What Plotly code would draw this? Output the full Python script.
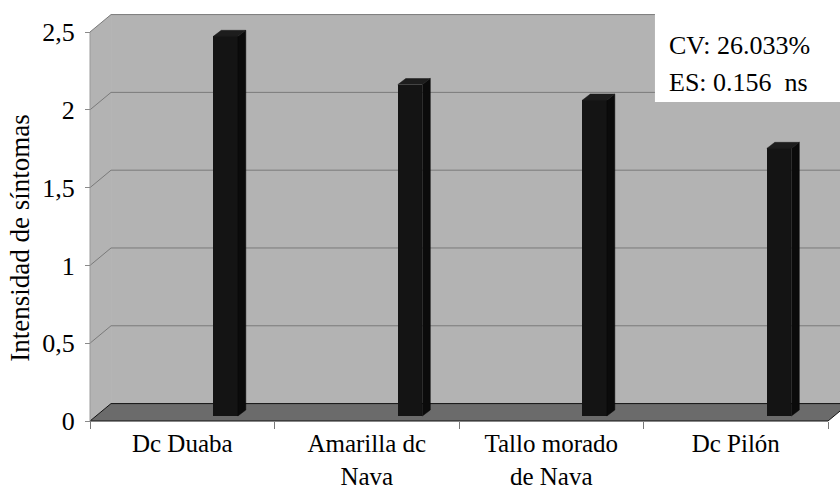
import plotly.graph_objects as go

# Disease symptom intensity per cultivar
categories = ["Dc Duaba", "Amarilla dc<br>Nava", "Tallo morado<br>de Nava", "Dc Pilón"]
intensity = [2.44, 2.13, 2.03, 1.72]
y_tick_values = [0, 0.5, 1, 1.5, 2, 2.5]
y_tick_labels = ["0", "0,5", "1", "1,5", "2", "2,5"]
stats_lines = ["CV: 26.033%", "ES: 0.156\u00a0 ns"]

FONT = "Times New Roman"
FONT_SIZE = 26

# pseudo-3D geometry, in data units
WALL_DX, WALL_DY = 0.114, 0.112      # depth of the back wall
BAR_BASE = 0.032                     # bars stand slightly inside the floor
BAR_OFFSET, BAR_WIDTH = 0.235, 0.133 # bar position inside each category slot
BAR_DX, BAR_DY = 0.043, 0.039        # bar depth

WALL_COLOR = "#b3b3b3"
GRID_COLOR = "#7a7a7a"
FLOOR_COLOR = "#6b6b6b"

X_RANGE = [-0.5542, 3.565]
Y_RANGE = [-0.0578, 2.7057]
x_left = -0.5
x_right = len(categories) - 0.5
y_top = y_tick_values[-1]

# statistics box corners (data units)
BOX_X0, BOX_Y0 = 2.562, 2.050

x_pos = [i + BAR_OFFSET for i in range(len(categories))]

fig = go.Figure()

# front faces of the bars
fig.add_trace(go.Bar(
    x=x_pos, y=intensity, base=BAR_BASE, width=BAR_WIDTH,
    marker=dict(color="#141414", line=dict(width=0)),
    hoverinfo="skip", showlegend=False,
))

# top and right-hand faces of the bars
top_x, top_y, side_x, side_y = [], [], [], []
for xc, v in zip(x_pos, intensity):
    xl, xr = xc - BAR_WIDTH / 2, xc + BAR_WIDTH / 2
    yt = BAR_BASE + v
    top_x += [xl, xr, xr + BAR_DX, xl + BAR_DX, xl, None]
    top_y += [yt, yt, yt + BAR_DY, yt + BAR_DY, yt, None]
    side_x += [xr, xr + BAR_DX, xr + BAR_DX, xr, xr, None]
    side_y += [BAR_BASE, BAR_BASE + BAR_DY, yt + BAR_DY, yt, BAR_BASE, None]

fig.add_trace(go.Scatter(
    x=side_x, y=side_y, mode="lines", fill="toself", fillcolor="#0b0b0b",
    line=dict(color="#0b0b0b", width=0.5), hoverinfo="skip", showlegend=False,
))
fig.add_trace(go.Scatter(
    x=top_x, y=top_y, mode="lines", fill="toself", fillcolor="#1d1d1d",
    line=dict(color="#1d1d1d", width=0.5), hoverinfo="skip", showlegend=False,
))

shapes = []
# back wall
shapes.append(dict(type="rect", xref="x", yref="y", layer="below",
                   x0=x_left + WALL_DX, x1=X_RANGE[1] + 1, y0=WALL_DY, y1=y_top + WALL_DY,
                   fillcolor=WALL_COLOR, line=dict(width=0)))
# side wall
shapes.append(dict(type="path", xref="x", yref="y", layer="below",
                   path=f"M {x_left},0 L {x_left},{y_top} L {x_left + WALL_DX},{y_top + WALL_DY} "
                        f"L {x_left + WALL_DX},{WALL_DY} Z",
                   fillcolor=WALL_COLOR, line=dict(width=0)))
# gridlines on both walls
for v in y_tick_values[1:]:
    shapes.append(dict(type="line", xref="x", yref="y", layer="below",
                       x0=x_left + WALL_DX, x1=X_RANGE[1] + 1, y0=v + WALL_DY, y1=v + WALL_DY,
                       line=dict(color=GRID_COLOR, width=1)))
    shapes.append(dict(type="line", xref="x", yref="y", layer="below",
                       x0=x_left, x1=x_left + WALL_DX, y0=v, y1=v + WALL_DY,
                       line=dict(color=GRID_COLOR, width=1)))
# floor
shapes.append(dict(type="path", xref="x", yref="y", layer="below",
                   path=f"M {x_left},0 L {x_right},0 L {x_right + WALL_DX},{WALL_DY} "
                        f"L {x_left + WALL_DX},{WALL_DY} Z",
                   fillcolor=FLOOR_COLOR, line=dict(color="#111111", width=1)))
# value axis line
shapes.append(dict(type="line", xref="x", yref="y", layer="below",
                   x0=x_left, x1=x_left, y0=0, y1=y_top,
                   line=dict(color="#9a9a9a", width=1)))
# statistics box
shapes.append(dict(type="rect", xref="x", yref="y", layer="below",
                   x0=BOX_X0, x1=X_RANGE[1] + 1, y0=BOX_Y0, y1=Y_RANGE[1] + 1,
                   fillcolor="white", line=dict(width=0)))

text_font = dict(family=FONT, size=FONT_SIZE, color="black")
annotations = [
    dict(text=stats_lines[0], xref="paper", yref="paper", x=0.7724, y=0.8953,
         xanchor="left", yanchor="middle", showarrow=False, font=text_font),
    dict(text=stats_lines[1], xref="paper", yref="paper", x=0.7724, y=0.8093,
         xanchor="left", yanchor="middle", showarrow=False, font=text_font),
    dict(text="Intensidad de síntomas", xref="paper", yref="paper", x=-0.0789, y=0.445,
         xanchor="center", yanchor="middle", textangle=-90, showarrow=False,
         font=dict(family=FONT, size=27, color="black")),
]

fig.update_layout(
    width=840, height=495,
    margin=dict(l=80, r=0, t=0, b=65),
    paper_bgcolor="white", plot_bgcolor="white",
    bargap=0, showlegend=False,
    shapes=shapes, annotations=annotations,
    font=text_font,
    xaxis=dict(
        range=X_RANGE, anchor="free", position=9 / 430, automargin=False,
        tickmode="array", tickvals=list(range(len(categories))), ticktext=categories,
        ticks="", showgrid=False, zeroline=False, showline=False,
        tickfont=dict(family=FONT, size=25, color="black"), ticklabelstandoff=5,
        minor=dict(tickvals=[i - 0.5 for i in range(len(categories) + 1)],
                   ticks="outside", ticklen=7, tickcolor="#777777", showgrid=False),
    ),
    yaxis=dict(
        range=Y_RANGE, anchor="free", position=10 / 760, automargin=False,
        tickmode="array", tickvals=y_tick_values, ticktext=y_tick_labels,
        ticks="outside", ticklen=5, tickcolor="#8a8a8a",
        showgrid=False, zeroline=False, showline=False,
        tickfont=text_font, ticklabelstandoff=5,
    ),
)

fig.write_html("out.html")
